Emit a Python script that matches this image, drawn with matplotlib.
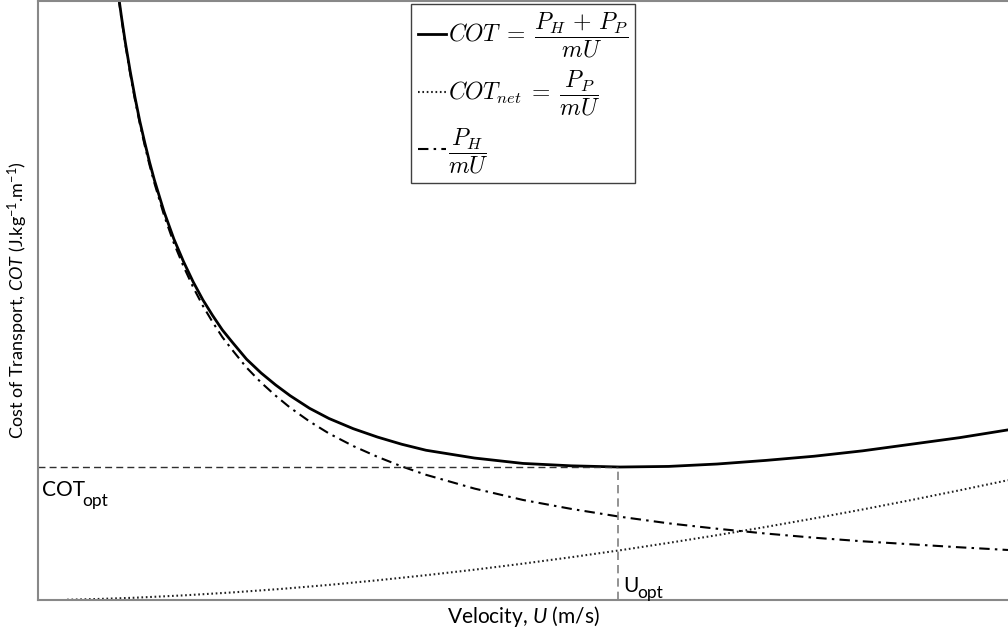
import matplotlib.pyplot as plt
from matplotlib.font_manager import FontProperties

plt.rcParams['font.family'] = 'Lato'
plt.rcParams['mathtext.fontset'] = 'custom'
plt.rcParams['mathtext.rm'] = 'Lato'
plt.rcParams['mathtext.it'] = 'Lato:italic'

# velocity samples (arbitrary units, no ticks on the chart)
u = [0.83, 0.86, 0.9, 0.95, 1.0, 1.05, 1.1, 1.15, 1.2, 1.3, 1.4, 1.5, 1.6,
     1.7, 1.8, 1.9, 2.0, 2.15, 2.3, 2.45, 2.6, 2.8, 3.0, 3.25, 3.5, 3.75,
     4.0, 4.5, 5.0, 5.5, 6.0, 6.5, 7.0, 7.5, 8.0, 8.5, 9.0, 9.5, 10.0]
# P_H / mU  (dash-dot)
cot_h = [10.06, 9.71, 9.28, 8.79, 8.35, 7.95, 7.59, 7.26, 6.96, 6.42, 5.96,
         5.57, 5.22, 4.91, 4.64, 4.39, 4.18, 3.88, 3.63, 3.41, 3.21, 2.98,
         2.78, 2.57, 2.39, 2.23, 2.09, 1.86, 1.67, 1.52, 1.39, 1.28, 1.19,
         1.11, 1.04, 0.98, 0.93, 0.88, 0.835]
# (P_H + P_P) / mU  (solid)
cot_total = [10.09, 9.74, 9.31, 8.83, 8.39, 7.99, 7.64, 7.31, 7.01, 6.48,
             6.03, 5.65, 5.31, 5.01, 4.75, 4.51, 4.31, 4.02, 3.79, 3.59,
             3.41, 3.20, 3.03, 2.86, 2.72, 2.60, 2.50, 2.37, 2.28, 2.24,
             2.22, 2.23, 2.27, 2.33, 2.40, 2.49, 2.60, 2.71, 2.84]
# P_P / mU  (dotted)
u_net = [0.3, 0.6, 1.0, 1.5, 2.0, 2.5, 3.0, 3.5, 4.0, 4.5, 5.0, 5.5, 6.0,
         6.5, 7.0, 7.5, 8.0, 8.5, 9.0, 9.5, 10.0]
cot_net = [0.005, 0.016, 0.038, 0.077, 0.126, 0.184, 0.252, 0.329, 0.414,
           0.506, 0.607, 0.715, 0.83, 0.953, 1.082, 1.219, 1.362, 1.511,
           1.668, 1.831, 2.0]

u_opt = 5.98
cot_opt = 2.22

fig = plt.figure(figsize=(10.08, 6.33), dpi=100)
ax = fig.add_axes([38 / 1008, 33 / 633, 970 / 1008, 599 / 633])

ax.plot(u, cot_total, color='black', lw=2,
        label=r'$COT\;=\;\dfrac{P_H\,+\,P_P}{mU}$')
ax.plot(u_net, cot_net, color='#202020', lw=1.5, linestyle=(0, (0.8, 1.3)),
        label=r'$COT_{net}\;=\;\dfrac{P_P}{mU}$')
ax.plot(u, cot_h, color='black', lw=1.5, linestyle=(0, (5, 2.5, 1.2, 2.5)),
        label=r'$\dfrac{P_H}{mU}$')

# optimum markers
ax.plot([0, u_opt], [cot_opt, cot_opt], color='#303030', lw=1,
        linestyle=(0, (5, 3)))
ax.plot([u_opt, u_opt], [0, cot_opt], color='#808080', lw=1.2,
        linestyle=(0, (5, 3)))

ax.annotate('COT', xy=(0, cot_opt), xytext=(3, -9), textcoords='offset points',
            fontsize=15, va='top', ha='left')
ax.annotate('opt', xy=(0, cot_opt), xytext=(32, -19),
            textcoords='offset points', fontsize=12.5, va='top', ha='left')
ax.annotate('U', xy=(u_opt, 0), xytext=(4, 3), textcoords='offset points',
            fontsize=15, va='bottom', ha='left')
ax.annotate('opt', xy=(u_opt, 0), xytext=(14, -1), textcoords='offset points',
            fontsize=12.5, va='bottom', ha='left')

ax.set_xlim(0, 10)
ax.set_ylim(0, 10)
ax.set_xticks([])
ax.set_yticks([])
for side in ['left', 'bottom', 'top']:
    ax.spines[side].set_color('#888888')
    ax.spines[side].set_linewidth(1.5)
ax.spines['right'].set_visible(False)

ax.set_xlabel(r'Velocity, $U$ (m/s)', fontsize=15, labelpad=3)
ax.set_ylabel(r'Cost of Transport, $COT$ (J.kg$^{-1}$.m$^{-1}$)',
              fontsize=13, labelpad=6)

leg = ax.legend(loc='upper center', prop=FontProperties(size=17,
                                                         math_fontfamily='cm'),
                handlelength=1.2, handletextpad=0.05, fancybox=False,
                framealpha=1, edgecolor='#404040', borderaxespad=0.12,
                labelspacing=0.35, borderpad=0.3)
leg.get_frame().set_linewidth(1)

fig.savefig('out.png', dpi=100)
